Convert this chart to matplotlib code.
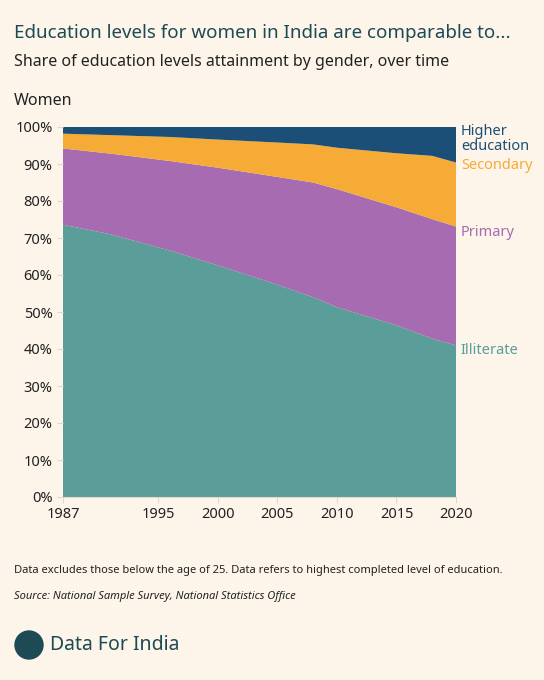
import matplotlib
matplotlib.use("Agg")
import matplotlib.pyplot as plt
import numpy as np
from matplotlib.patches import Circle

years = [1987, 1991, 1996, 2000, 2005, 2008, 2010, 2015, 2018, 2020]
illiterate = [73.6, 71.0, 66.6, 62.6, 57.4, 54.0, 51.3, 46.4, 42.8, 41.0]
prim_top = [94.2, 92.8, 90.8, 89.0, 86.5, 85.0, 83.2, 78.3, 75.1, 73.1]
sec_top = [98.2, 97.8, 97.3, 96.6, 95.8, 95.3, 94.4, 92.9, 92.2, 90.4]
primary = [p - i for p, i in zip(prim_top, illiterate)]
secondary = [s - p for s, p in zip(sec_top, prim_top)]
higher = [100 - s for s in sec_top]
labels = ["Illiterate", "Primary", "Secondary", "Higher\neducation"]
colors = ["#5b9e99", "#a66bb1", "#f5ab35", "#1c4f77"]
xticks = [1987, 1995, 2000, 2005, 2010, 2015, 2020]

bg = "#fdf5ea"
W, H = 544, 680
fig = plt.figure(figsize=(W/100, H/100), dpi=100, facecolor=bg)
plt.rcParams['font.family'] = ['Noto Sans', 'DejaVu Sans']
ax = fig.add_axes([63/W, 1-497/H, (456-63)/W, (497-127)/H], facecolor=bg)
series = [illiterate, primary, secondary, higher]
ax.stackplot(years, *series, colors=colors, linewidth=0)
ax.set_xlim(1987, 2020)
ax.set_ylim(0, 100)
ax.set_xticks(xticks)
ax.set_yticks(range(0, 101, 10))
ax.set_yticklabels([f"{v}%" for v in range(0, 101, 10)])
for s in ["top", "right", "left"]:
    ax.spines[s].set_visible(False)
ax.spines["bottom"].set_color("#e0d8cc")
ax.tick_params(axis="both", colors="#e0d8cc", labelcolor="#222222", labelsize=10.5, length=4)
cum = np.cumsum([s[-1] for s in series])
mids = [41, 73.1 - 0.5*(73.1-41) + 0, 0, 0]
ypos = [39.5, 71.5, 89.5, 96.8]
for lab, c, y in zip(labels, colors, ypos):
    ax.text(2020.4, y, lab, color=c, fontsize=10.5, va="center", ha="left", linespacing=0.95)

fig.text(14/W, 1-33/H, "Education levels for women in India are comparable to...", fontsize=13.5, color="#1d4a55", va="center")
fig.text(14/W, 1-62/H, "Share of education levels attainment by gender, over time", fontsize=11.5, color="#222222", va="center")
fig.text(14/W, 1-101/H, "Women", fontsize=11.5, color="#222222", va="center")
fig.text(14/W, 1-570/H, "Data excludes those below the age of 25. Data refers to highest completed level of education.", fontsize=8, color="#222222", va="center")
fig.text(14/W, 1-596/H, "Source: National Sample Survey, National Statistics Office", fontsize=8, color="#222222", va="center", style="italic")
circ = Circle((29/W, 1-645/H), 14/W, transform=fig.transFigure, color="#1d4a55")
circ.set_transform(fig.transFigure)
fig.patches.append(Circle((29, H-645), 14, transform=None, color="#1d4a55"))
fig.text(50/W, 1-645/H, "Data For India", fontsize=14, color="#1d4a55", weight="bold", va="center")
fig.savefig("out.png", dpi=100, facecolor=bg)
